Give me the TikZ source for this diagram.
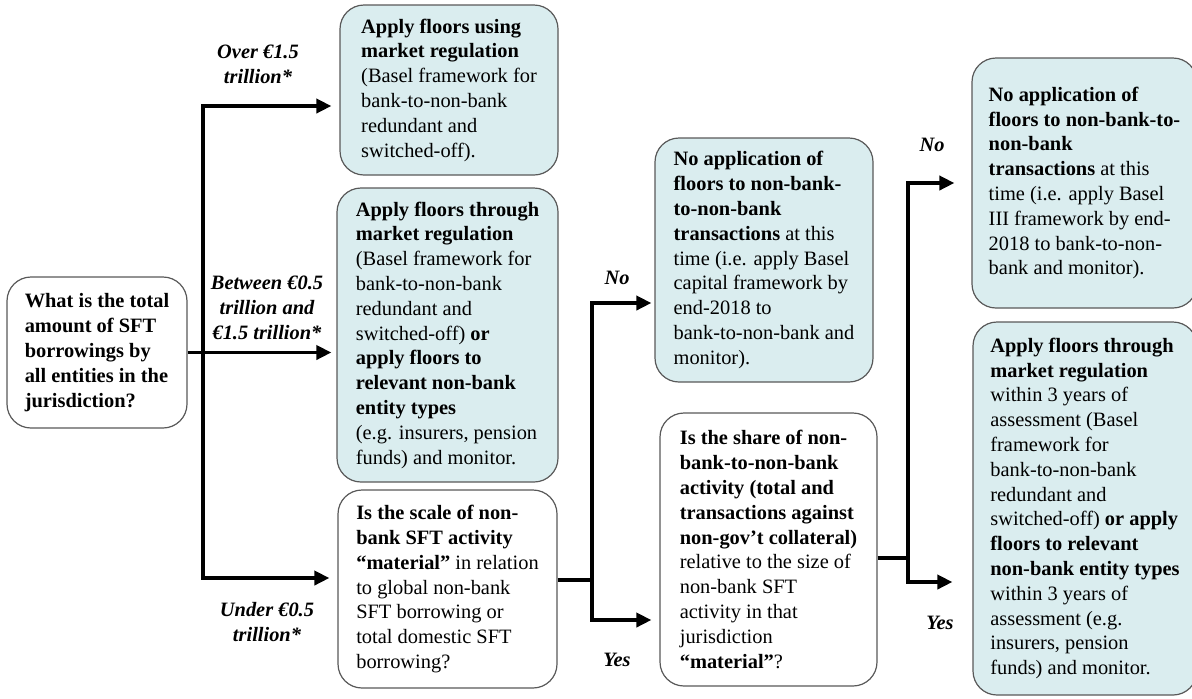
\documentclass[tikz,border=0pt]{standalone}
\usepackage{fontspec}
\setmainfont{Liberation Serif}
\usetikzlibrary{arrows.meta}
\definecolor{boxblue}{HTML}{DAEDEF}
\begin{document}
\begin{tikzpicture}[x=0.5pt,y=-0.5pt,
  box/.style={draw=black!65,line width=0.6pt,rounded corners=12pt,align=left,inner xsep=6.5pt,font=\fontsize{10.2}{12.4}\selectfont},
  bluebox/.style={box,fill=boxblue},
  whitebox/.style={box,fill=white},
  qbox/.style={whitebox,font=\fontsize{10.2}{12.5}\selectfont\bfseries},
  lbl/.style={align=center,font=\fontsize{10.2}{12.4}\selectfont\bfseries\itshape},
  arr/.style={line width=1.8pt,-{Triangle[length=7.5pt,width=7pt]},line join=miter},
  line/.style={line width=1.8pt}]
\useasboundingbox (0,0) rectangle (1192,698);
\clip (0,0) rectangle (1192,698);
% question on the left
\node[qbox,minimum width=90pt,minimum height=75.5pt] (q1) at (97,352.5)
{What is the total\\amount of SFT\\borrowings by\\all entities in the\\jurisdiction?};
% first column
\node[bluebox,minimum width=109pt,minimum height=85pt] (b1) at (449,90)
{\textbf{Apply floors using}\\\textbf{market regulation}\\(Basel framework for\\bank-to-non-bank\\redundant and\\switched-off).};
\node[bluebox,minimum width=110.5pt,minimum height=147pt] (b2) at (447.5,335)
{\textbf{Apply floors through}\\\textbf{market regulation}\\(Basel framework for\\bank-to-non-bank\\redundant and\\switched-off) \textbf{or}\\\textbf{apply floors to}\\\textbf{relevant non-bank}\\\textbf{entity types}\\(e.g. insurers, pension\\funds) and monitor.};
\node[whitebox,minimum width=109.5pt,minimum height=99pt] (b3) at (447.5,589)
{\textbf{Is the scale of non-}\\\textbf{bank SFT activity}\\\textbf{“material”} in relation\\to global non-bank\\SFT borrowing or\\total domestic SFT\\borrowing?};
% second column
\node[bluebox,minimum width=109pt,minimum height=122pt] (b4) at (764,260)
{\textbf{No application of}\\\textbf{floors to non-bank-}\\\textbf{to-non-bank}\\\textbf{transactions} at this\\time (i.e. apply Basel\\capital framework by\\end-2018 to\\bank-to-non-bank and\\monitor).};
\node[whitebox,minimum width=108.5pt,minimum height=136.5pt] (b5) at (768.5,549.5)
{\textbf{Is the share of non-}\\\textbf{bank-to-non-bank}\\\textbf{activity (total and}\\\textbf{transactions against}\\\textbf{non-gov’t collateral)}\\relative to the size of\\non-bank SFT\\activity in that\\jurisdiction\\\textbf{“material”}?};
% third column
\node[bluebox,minimum width=112.5pt,minimum height=125pt] (b6) at (1084.5,183)
{\textbf{No application of}\\\textbf{floors to non-bank-to-}\\\textbf{non-bank}\\\textbf{transactions} at this\\time (i.e. apply Basel\\III framework by end-\\2018 to bank-to-non-\\bank and monitor).};
\node[bluebox,minimum width=112pt,minimum height=186.5pt] (b7) at (1085,508.5)
{\textbf{Apply floors through}\\\textbf{market regulation}\\within 3 years of\\assessment (Basel\\framework for\\bank-to-non-bank\\redundant and\\switched-off) \textbf{or apply}\\\textbf{floors to relevant}\\\textbf{non-bank entity types}\\within 3 years of\\assessment (e.g.\\insurers, pension\\funds) and monitor.};
% forks
\coordinate (j1a) at (203,106);
\coordinate (j1b) at (203,578);
\draw[arr,shorten >=4pt] (j1b) |- (j1a -| b1.west);
\draw[arr,shorten >=4pt] (j1a) |- (j1b -| b3.west);
\draw[arr,shorten >=2.5pt] (q1.east) -- (q1.east -| b2.west);
\coordinate (j2a) at (592,303);
\coordinate (j2b) at (592,620);
\coordinate (j2m) at (592,580);
\draw[line] (j2m -| b3.east) -- (j2m);
\draw[arr,shorten >=1.5pt] (j2b) |- (j2a -| b4.west);
\draw[arr,shorten >=4pt] (j2a) |- (j2b -| b5.west);
\coordinate (j3a) at (908,183);
\coordinate (j3b) at (908,582);
\coordinate (j3m) at (908,558);
\draw[line] (j3m -| b5.east) -- (j3m);
\draw[arr,shorten >=8.5pt] (j3b) |- (j3a -| b6.west);
\draw[arr,shorten >=10pt] (j3a) |- (j3b -| b7.west);
% labels
\node[lbl] (l1) at (258,64) {Over €1.5\\trillion*};
\node[lbl] (l2) at (267,308) {Between €0.5\\trillion and\\€1.5 trillion*};
\node[lbl] (l3) at (267,622) {Under €0.5\\trillion*};
\node[lbl] (l4) at (617,278) {No};
\node[lbl] (l5) at (617,660) {Yes};
\node[lbl] (l6) at (932,145) {No};
\node[lbl] (l7) at (940,623) {Yes};
\end{tikzpicture}
\end{document}
